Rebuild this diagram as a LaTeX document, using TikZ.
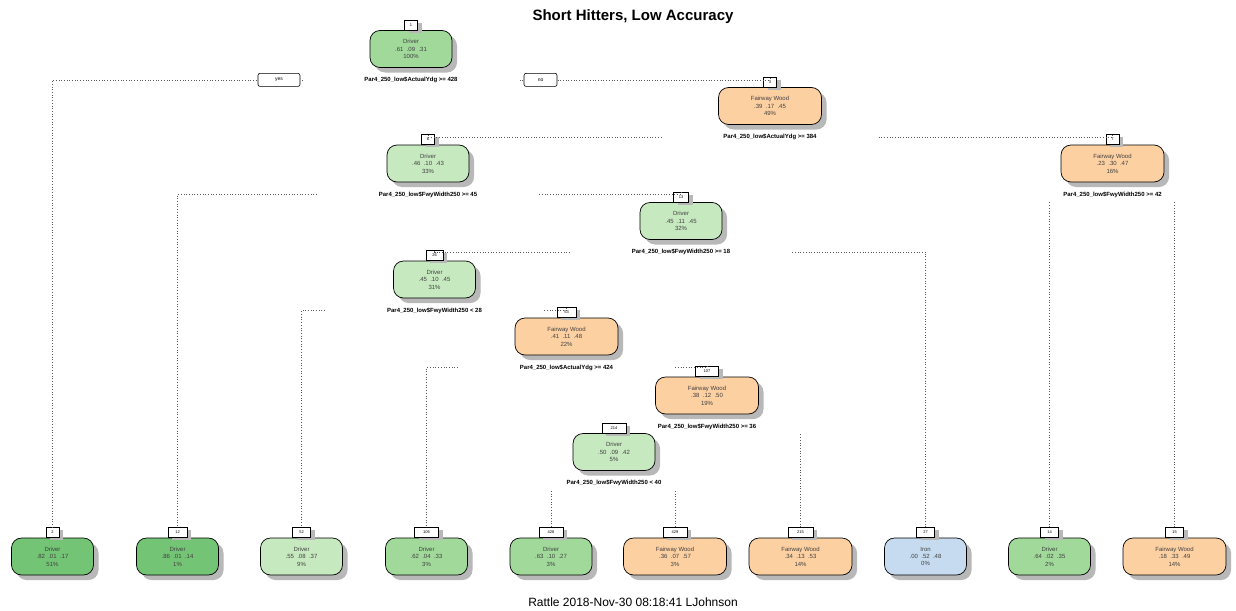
\documentclass[tikz,border=0pt]{standalone}
\usepackage{fontspec}
\setmainfont{Liberation Sans}
\usetikzlibrary{positioning,shadows}

\definecolor{grnD}{HTML}{74C476}
\definecolor{grnM}{HTML}{A1D99B}
\definecolor{grnL}{HTML}{C7E9C0}
\definecolor{orgL}{HTML}{FDD0A2}
\definecolor{bluL}{HTML}{C6DBEF}

\tikzset{
  box/.style={draw=black, line width=0.7pt, rounded corners=10pt, minimum height=37pt,
    align=center, text=black!75, font=\fontsize{6}{7.4}\selectfont,
    drop shadow={shadow xshift=5pt, shadow yshift=-5pt, fill=black!28, opacity=1}},
  drv/.style={box, minimum width=82pt},
  fwy/.style={box, minimum width=103pt},
  numbox/.style={draw=black, fill=white, line width=0.6pt, minimum height=10pt,
    minimum width=#1, inner sep=0pt, font=\fontsize{4}{4}\selectfont,
    drop shadow={shadow xshift=4pt, shadow yshift=-3pt, fill=black!28, opacity=1}},
  numbox/.default=13pt,
  split/.style={inner sep=0pt, font=\bfseries\fontsize{6}{7}\selectfont},
  yesno/.style={draw=black, fill=white, rounded corners=2pt, line width=0.6pt,
    minimum height=13pt, inner sep=0pt, font=\fontsize{5}{5}\selectfont},
  branch/.style={dotted, line width=0.7pt, black!65}
}

\begin{document}
\begin{tikzpicture}[x=1pt, y=-1pt]
\useasboundingbox (0,0) rectangle (1236,610);
\fill[white] (0,0) rectangle (1236,610);

\node[font=\bfseries\fontsize{15}{18}\selectfont] (title) at (633,17) {Short Hitters, Low Accuracy};

% inner nodes
\node[drv, fill=grnM] (n1) at (411,49) {Driver\\.61\ \ .09\ \ .31\\100\%};
\node[numbox, above=0pt of n1] (num1) {1};
\node[split, below=9pt of n1] (s1) {Par4\_250\_low\$ActualYdg >= 428};

\node[fwy, fill=orgL] (n3) at (770,106) {Fairway Wood\\.39\ \ .17\ \ .45\\49\%};
\node[numbox, above=0pt of n3] (num3) {3};
\node[split, below=9pt of n3] (s3) {Par4\_250\_low\$ActualYdg >= 384};

\node[drv, fill=grnL] (n6) at (428,163.5) {Driver\\.46\ \ .10\ \ .43\\33\%};
\node[numbox, above=0pt of n6] (num6) {6};
\node[split, below=9pt of n6] (s6) {Par4\_250\_low\$FwyWidth250 >= 45};

\node[fwy, fill=orgL] (n7) at (1112.5,163.5) {Fairway Wood\\.23\ \ .30\ \ .47\\16\%};
\node[numbox, above=0pt of n7] (num7) {7};
\node[split, below=9pt of n7] (s7) {Par4\_250\_low\$FwyWidth250 >= 42};

\node[drv, fill=grnL] (n13) at (681,221) {Driver\\.45\ \ .11\ \ .45\\32\%};
\node[numbox=15pt, above=0pt of n13] (num13) {13};
\node[split, below=9pt of n13] (s13) {Par4\_250\_low\$FwyWidth250 >= 18};

\node[drv, fill=grnL] (n26) at (434.5,279.5) {Driver\\.45\ \ .10\ \ .45\\31\%};
\node[numbox=17pt, above=0pt of n26] (num26) {26};
\node[split, below=9pt of n26] (s26) {Par4\_250\_low\$FwyWidth250 < 28};

\node[fwy, fill=orgL] (n53) at (566.5,336.5) {Fairway Wood\\.41\ \ .11\ \ .48\\22\%};
\node[numbox=19pt, above=0pt of n53] (num53) {53};
\node[split, below=9pt of n53] (s53) {Par4\_250\_low\$ActualYdg >= 424};

\node[fwy, fill=orgL] (n107) at (707,395.5) {Fairway Wood\\.38\ \ .12\ \ .50\\19\%};
\node[numbox=23pt, above=0pt of n107] (num107) {107};
\node[split, below=9pt of n107] (s107) {Par4\_250\_low\$FwyWidth250 >= 36};

\node[drv, fill=grnL] (n214) at (614,452) {Driver\\.50\ \ .09\ \ .42\\5\%};
\node[numbox=24pt, above=0pt of n214] (num214) {214};
\node[split, below=9pt of n214] (s214) {Par4\_250\_low\$FwyWidth250 < 40};

% leaves
\node[drv, fill=grnD] (n2) at (52.5,556.5) {Driver\\.82\ \ .01\ \ .17\\51\%};
\node[numbox, above=0pt of n2] (num2) {2};
\node[drv, fill=grnD] (n12) at (177.5,556.5) {Driver\\.86\ \ .01\ \ .14\\1\%};
\node[numbox=19pt, above=0pt of n12] (num12) {12};
\node[drv, fill=grnL] (n52) at (301.5,556.5) {Driver\\.55\ \ .08\ \ .37\\9\%};
\node[numbox=18pt, above=0pt of n52] (num52) {52};
\node[drv, fill=grnM] (n106) at (426.5,556.5) {Driver\\.62\ \ .04\ \ .33\\3\%};
\node[numbox=24pt, above=0pt of n106] (num106) {106};
\node[drv, fill=grnM] (n428) at (551,556.5) {Driver\\.63\ \ .10\ \ .27\\3\%};
\node[numbox=24pt, above=0pt of n428] (num428) {428};
\node[fwy, fill=orgL] (n429) at (675,556.5) {Fairway Wood\\.36\ \ .07\ \ .57\\3\%};
\node[numbox=24pt, above=0pt of n429] (num429) {429};
\node[fwy, fill=orgL] (n215) at (800.5,556.5) {Fairway Wood\\.34\ \ .13\ \ .53\\14\%};
\node[numbox=25pt, above=0pt of n215] (num215) {215};
\node[drv, fill=bluL] (n27) at (925.5,556.5) {Iron\\.00\ \ .52\ \ .48\\0\%};
\node[numbox=18pt, above=0pt of n27] (num27) {27};
\node[drv, fill=grnM] (n14) at (1049.5,556.5) {Driver\\.64\ \ .02\ \ .35\\2\%};
\node[numbox=18pt, above=0pt of n14] (num14) {14};
\node[fwy, fill=orgL] (n15) at (1174.5,556.5) {Fairway Wood\\.18\ \ .33\ \ .49\\14\%};
\node[numbox=18pt, above=0pt of n15] (num15) {15};

% branches
\draw[branch] ([xshift=-62pt]s1.west) -| (num2.north);
\draw[branch] ([xshift=62pt]s1.east) -| (num3.north);
\draw[branch] ([xshift=-62pt]s3.west) -| (num6.north);
\draw[branch] ([xshift=62pt]s3.east) -| (num7.north);
\draw[branch] ([xshift=-62pt]s6.west) -| (num12.north);
\draw[branch] ([xshift=62pt]s6.east) -| (num13.north);
\draw[branch] ([yshift=-5pt]s7.south -| num14.north) -- (num14.north);
\draw[branch] ([yshift=-5pt]s7.south -| num15.north) -- (num15.north);
\draw[branch] ([xshift=-62pt]s13.west) -| (num26.north);
\draw[branch] ([xshift=62pt]s13.east) -| (num27.north);
\draw[branch] ([xshift=-62pt]s26.west) -| (num52.north);
\draw[branch] ([xshift=62pt]s26.east) -| (num53.north);
\draw[branch] ([xshift=-62pt]s53.west) -| (num106.north);
\draw[branch] ([xshift=62pt]s53.east) -| (num107.north);
\draw[branch] ([yshift=-5pt]s107.south -| num215.north) -- (num215.north);
\draw[branch] ([yshift=-5pt]s214.south -| num428.north) -- (num428.north);
\draw[branch] ([yshift=-5pt]s214.south -| num429.north) -- (num429.north);

\node[yesno, minimum width=42pt, left=64pt of s1] (yes) {yes};
\node[yesno, minimum width=33pt, right=66pt of s1] (no) {no};

\node[font=\fontsize{12}{14}\selectfont] (stamp) at (633,602) {Rattle 2018-Nov-30 08:18:41 LJohnson};
\end{tikzpicture}
\end{document}
